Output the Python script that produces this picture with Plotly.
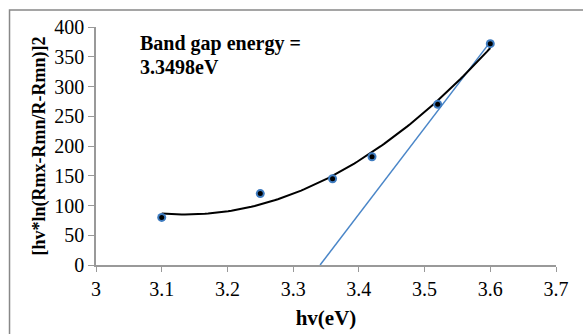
import numpy as np
import plotly.graph_objects as go

hv = [3.1, 3.25, 3.36, 3.42, 3.52, 3.6]
yvals = [80, 120, 145, 182, 270, 372]
tangent_x = [3.341, 3.6]
tangent_y = [0, 375]
x_ticks = [3, 3.1, 3.2, 3.3, 3.4, 3.5, 3.6, 3.7]
y_ticks = [0, 50, 100, 150, 200, 250, 300, 350, 400]

coef = np.polyfit(hv, yvals, 2)
xf = np.linspace(min(hv), max(hv), 100)
yf = np.polyval(coef, xf)

serif = "Liberation Serif, Times New Roman, serif"
fig = go.Figure()
fig.add_trace(go.Scatter(x=tangent_x, y=tangent_y, mode="lines",
                         line=dict(color="#4a86c8", width=1.5), showlegend=False))
fig.add_trace(go.Scatter(x=xf, y=yf, mode="lines",
                         line=dict(color="black", width=2), showlegend=False))
fig.add_trace(go.Scatter(x=hv, y=yvals, mode="markers",
                         marker=dict(color="#3f7cc0", size=9, line=dict(width=0)), showlegend=False))
fig.add_trace(go.Scatter(x=hv, y=yvals, mode="markers",
                         marker=dict(color="black", size=5), showlegend=False))

fig.add_annotation(x=0.094, y=(265 - 44) / 238, xref="paper", yref="paper", xanchor="left", yanchor="middle",
                   text="<b>Band gap energy =</b>", showarrow=False, align="left", borderpad=0,
                   font=dict(family=serif, size=20, color="black"))
fig.add_annotation(x=0.094, y=(265 - 67) / 238, xref="paper", yref="paper", xanchor="left", yanchor="middle",
                   text="<b>3.3498eV</b>", showarrow=False, align="left", borderpad=0,
                   font=dict(family=serif, size=20, color="black"))

fig.add_shape(type="rect", xref="paper", yref="paper", x0=-0.188, x1=1.2, y0=-0.5, y1=1.071,
              line=dict(color="#888888", width=1.5), fillcolor="rgba(0,0,0,0)")

fig.update_xaxes(range=[3, 3.7], tickvals=x_ticks, ticktext=[str(v) for v in x_ticks], automargin=False,
                 showgrid=False, zeroline=False, showline=True, linecolor="#999999", linewidth=1.5,
                 ticks="outside", ticklen=5, tickcolor="#999999",
                 tickfont=dict(family=serif, size=20, color="black"),
                 title=dict(text="<b>hv(eV)</b>", font=dict(family=serif, size=21, color="black"), standoff=12))
fig.update_yaxes(range=[0, 400], tickvals=y_ticks, automargin=False,
                 showgrid=False, zeroline=False, showline=True, linecolor="#999999", linewidth=1.5,
                 ticks="outside", ticklen=6, tickcolor="#999999",
                 tickfont=dict(family=serif, size=20, color="black"),
                 title=dict(text="<b>[hv*ln(Rmx-Rmn/R-Rmn)]2</b>", font=dict(family=serif, size=18, color="black"), standoff=4))
fig.update_layout(width=583, height=334, margin=dict(l=96, r=27, t=27, b=69),
                  paper_bgcolor="white", plot_bgcolor="white")
fig.write_html("out.html")
